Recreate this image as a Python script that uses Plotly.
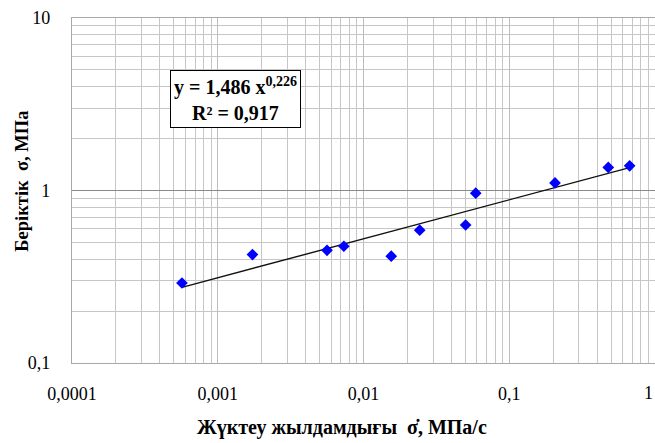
import numpy as np
import plotly.graph_objects as go

# Loading rate (MPa/s) and strength (MPa) measurements
loading_rate = [0.000568, 0.00173, 0.00562, 0.00733, 0.0155, 0.0243, 0.0502, 0.0589, 0.206, 0.478, 0.670]
strength = [0.291, 0.425, 0.450, 0.475, 0.416, 0.589, 0.631, 0.965, 1.107, 1.360, 1.390]

# Power-law fit y = a * x^b
fit_a = 1.486
fit_b = 0.226
fit_r2 = 0.917

x_ticks = [0.0001, 0.001, 0.01, 0.1]
x_tick_text = ["0,0001", "0,001", "0,01", "0,1"]
x_end_label = "1"
y_ticks = [0.1, 1, 10]
y_tick_text = ["0,1", "1", "10"]

serif = "Times New Roman"

fit_x = np.logspace(np.log10(min(loading_rate)), np.log10(max(loading_rate)), 60)
fit_y = fit_a * fit_x ** fit_b

fig = go.Figure()
fig.add_trace(go.Scatter(
    x=fit_x, y=fit_y, mode="lines",
    line=dict(color="#111111", width=1.4),
    hoverinfo="skip", showlegend=False,
))
fig.add_trace(go.Scatter(
    x=loading_rate, y=strength, mode="markers",
    marker=dict(symbol="diamond", size=9, color="#0000FF"),
    showlegend=False,
))

fig.update_xaxes(
    type="log", range=[-4, 0],
    tickvals=x_ticks, ticktext=x_tick_text,
    ticks="", ticklabelstandoff=14,
    tickfont=dict(family=serif, size=18, color="#000000"),
    showgrid=True, gridcolor="#bdbdbd", gridwidth=1.3,
    minor=dict(dtick="D1", showgrid=True, gridcolor="#c6c6c6", gridwidth=1.3, ticks=""),
    showline=True, linecolor="#a8a8a8", linewidth=1.3, mirror=True,
    zeroline=False,
)
fig.update_yaxes(
    type="log", range=[-1, 1],
    tickvals=y_ticks, ticktext=y_tick_text,
    ticks="", ticklabelstandoff=17,
    tickfont=dict(family=serif, size=18, color="#000000"),
    showgrid=True, gridcolor="#8a8a8a", gridwidth=1.3,
    minor=dict(dtick="D1", showgrid=True, gridcolor="#c6c6c6", gridwidth=1.3, ticks=""),
    showline=True, linecolor="#a8a8a8", linewidth=1.3,
    zeroline=False,
)

annotations = [
    dict(
        text="<b>" + f"y = {fit_a:.3f}".replace(".", ",") + " x<sup>" + f"{fit_b:.3f}".replace(".", ",") + "</sup>"
             + "<br>R² = " + f"{fit_r2:.3f}".replace(".", ",") + "</b>",
        xref="paper", yref="paper", x=0.28, y=0.764,
        xanchor="center", yanchor="middle", showarrow=False,
        font=dict(family=serif, size=20, color="#000000"),
        bgcolor="#FFFFFF", bordercolor="#000000", borderwidth=1, borderpad=3,
        align="center",
    ),
    dict(
        text="<b>Жүктеу жылдамдығы  σ̇, МПа/с</b>",
        xref="paper", yref="paper", x=0.463, y=-0.188,
        xanchor="center", yanchor="middle", showarrow=False,
        font=dict(family=serif, size=20, color="#000000"),
    ),
    dict(
        text="<b>Беріктік  σ, МПа</b>",
        xref="paper", yref="paper", x=-0.086, y=0.528,
        xanchor="center", yanchor="middle", showarrow=False, textangle=-90,
        font=dict(family=serif, size=18.5, color="#000000"),
    ),
    dict(
        text=x_end_label,
        xref="paper", yref="paper", x=1.0, y=-0.088,
        xanchor="right", yanchor="middle", showarrow=False,
        font=dict(family=serif, size=18, color="#000000"),
    ),
]

fig.update_layout(
    width=655, height=443,
    margin=dict(l=72, r=0, t=18, b=80),
    paper_bgcolor="#FFFFFF", plot_bgcolor="#FFFFFF",
    font=dict(family=serif),
    annotations=annotations,
)

fig.write_html("out.html")
